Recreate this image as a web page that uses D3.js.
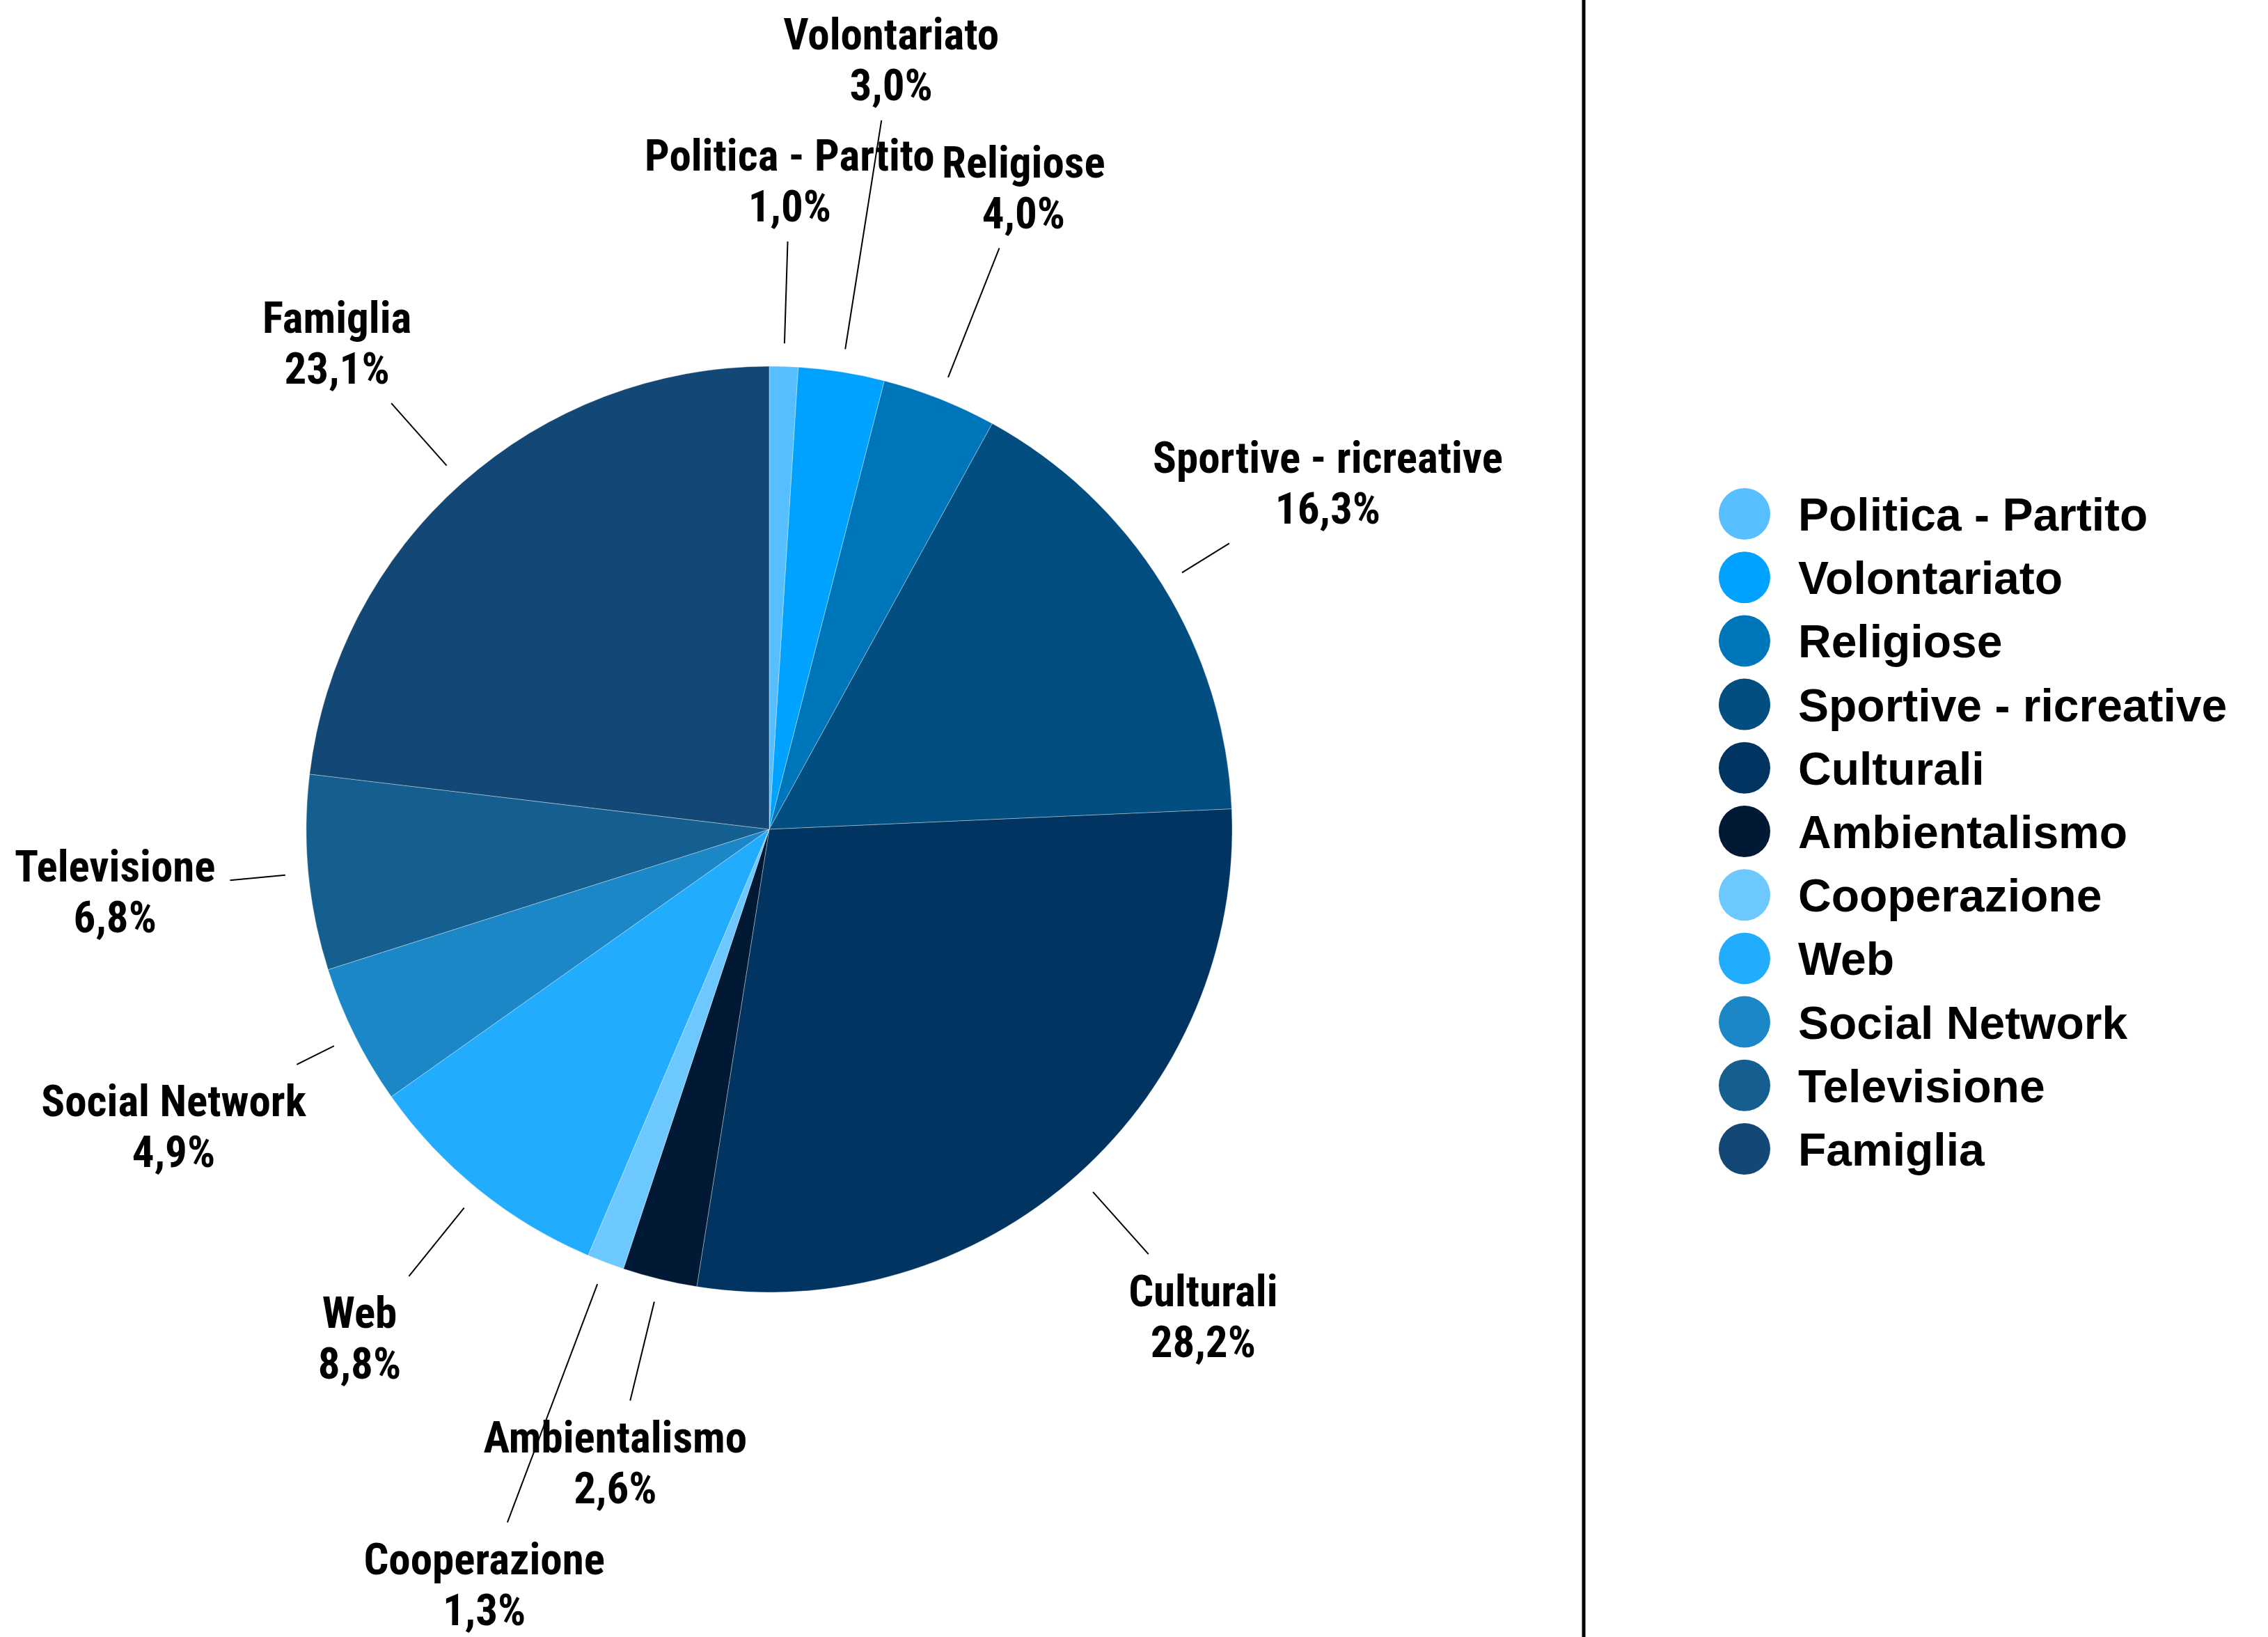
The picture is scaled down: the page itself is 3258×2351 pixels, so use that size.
<!DOCTYPE html>
<html>
  <head>
    <meta charset="utf-8">
    <title>Pie chart</title>
    <script src="https://cdn.jsdelivr.net/npm/d3@7"></script>
    <style type="text/css">
      body { margin: 0; background: #fff; }
      .lbl { font-family: "Liberation Sans Narrow", "Roboto Condensed", "DejaVu Sans Condensed", sans-serif; font-weight: bold; font-stretch: condensed; }
      .leg { font-family: "Liberation Sans", Arial, sans-serif; font-weight: bold; }
    </style>
  </head>
  <body>
    <script>
    // data
    var categories = ["Politica - Partito", "Volontariato", "Religiose", "Sportive - ricreative",
      "Culturali", "Ambientalismo", "Cooperazione", "Web", "Social Network", "Televisione", "Famiglia"];
    var values = [1.0, 3.0, 4.0, 16.3, 28.2, 2.6, 1.3, 8.8, 4.9, 6.8, 23.1];
    var colors = ["#57bfff", "#00a2ff", "#0076ba", "#024e80", "#013461", "#021936",
      "#6cc8ff", "#22acfe", "#1c87c6", "#155f90", "#134876"];
    // how far out each leader line goes (times the radius)
    var leaderOut = [1.27, 1.55, 1.35, 1.17, 1.23, 1.27, 1.60, 1.24, 1.14, 1.17, 1.23];

    var width = 3258, height = 2351;
    var cx = 1105, cy = 1191, radius = 665;

    var it = d3.formatLocale({decimal: ",", thousands: ".", grouping: [3], currency: ["€", ""]});
    var fmt = it.format(".1f");

    var svg = d3.select("body").append("svg")
      .attr("width", width)
      .attr("height", height);

    var color = d3.scaleOrdinal().domain(categories).range(colors);

    var pie = d3.pie().sort(null).value(function(d, i) { return values[i]; });
    var arcs = pie(categories);

    var arc = d3.arc().innerRadius(0).outerRadius(radius);

    var g = svg.append("g").attr("transform", "translate(" + cx + "," + cy + ")");

    g.selectAll("path.slice")
      .data(arcs)
      .enter()
      .append("path")
        .attr("class", "slice")
        .attr("d", arc)
        .attr("fill", function(d) { return color(d.data); })
        .attr("stroke", "#ffffff")
        .attr("stroke-opacity", 0.35)
        .attr("stroke-width", 1);

    function mid(d) { return (d.startAngle + d.endAngle) / 2; }

    // leader lines
    g.selectAll("line.leader")
      .data(arcs)
      .enter()
      .append("line")
        .attr("class", "leader")
        .attr("x1", function(d) { return Math.sin(mid(d)) * radius * 1.05; })
        .attr("y1", function(d) { return -Math.cos(mid(d)) * radius * 1.05; })
        .attr("x2", function(d, i) { return Math.sin(mid(d)) * radius * leaderOut[i]; })
        .attr("y2", function(d, i) { return -Math.cos(mid(d)) * radius * leaderOut[i]; })
        .attr("stroke", "#000")
        .attr("stroke-width", 2);

    // labels: name + percent, box pushed outward so it touches the end of the leader
    var fs = 63, lineH = 73, halfH = 88, padX = 21;
    var labels = g.selectAll("text.lbl")
      .data(arcs)
      .enter()
      .append("text")
        .attr("class", "lbl")
        .attr("font-size", fs)
        .attr("text-anchor", "middle")
        .attr("fill", "#000");

    labels.append("tspan").attr("class", "nm").text(function(d) { return d.data; });
    labels.append("tspan").attr("class", "pc").text(function(d, i) { return fmt(values[i]) + "%"; });

    labels.each(function(d, i) {
      var t = d3.select(this);
      var w = t.select(".nm").node().getComputedTextLength();
      var w2 = t.select(".pc").node().getComputedTextLength();
      var halfW = Math.max(w, w2) / 2 + padX;
      var a = mid(d);
      var dx = Math.sin(a), dy = -Math.cos(a);
      var ex = dx * radius * leaderOut[i], ey = dy * radius * leaderOut[i];
      var k = Math.min(Math.abs(dx) > 1e-6 ? halfW / Math.abs(dx) : 1e9,
                       Math.abs(dy) > 1e-6 ? halfH / Math.abs(dy) : 1e9);
      var lx = ex + dx * k, ly = ey + dy * k;
      t.select(".nm").attr("x", lx).attr("y", ly - lineH / 2 + 23);
      t.select(".pc").attr("x", lx).attr("y", ly + lineH / 2 + 23);
    });

    // divider
    svg.append("line")
      .attr("x1", 2275).attr("x2", 2275)
      .attr("y1", 0).attr("y2", height)
      .attr("stroke", "#000")
      .attr("stroke-width", 5);

    // legend
    var legend = svg.append("g").attr("transform", "translate(2506,738)");
    var rowH = 91.2;

    var rows = legend.selectAll("g.row")
      .data(categories)
      .enter()
      .append("g")
        .attr("class", "row")
        .attr("transform", function(d, i) { return "translate(0," + (i * rowH) + ")"; });

    rows.append("circle")
      .attr("r", 37)
      .attr("fill", function(d) { return color(d); });

    rows.append("text")
      .attr("class", "leg")
      .attr("x", 77)
      .attr("y", 24)
      .attr("font-size", 66)
      .attr("fill", "#000")
      .text(function(d) { return d; });

    </script>
  </body>
</html>
